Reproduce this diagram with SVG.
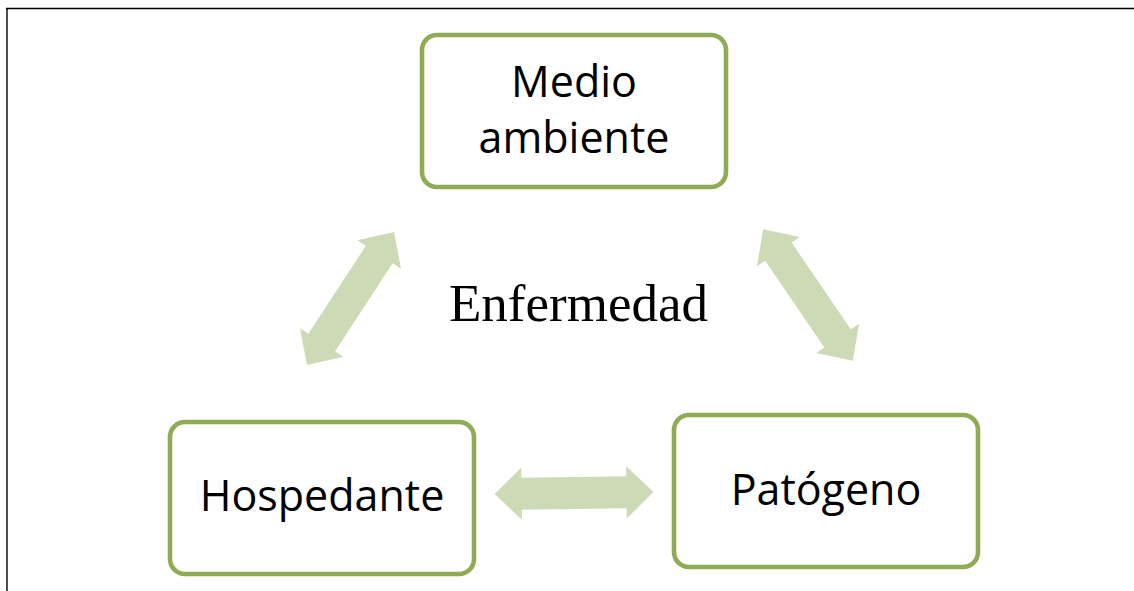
<svg xmlns="http://www.w3.org/2000/svg" width="1134" height="591" viewBox="0 0 1134 591">
  <style>
    .box { fill: #ffffff; stroke: #8fab55; stroke-width: 4.6; }
    .lbl { font-family: "Open Sans", "Noto Sans", sans-serif; font-size: 43px; fill: #000000; text-anchor: middle; }
    .arrow { fill: #cddab6; }
    .title { font-family: "Liberation Serif", "Times New Roman", serif; font-size: 53px; fill: #000000; text-anchor: middle; }
  </style>
  <defs>
    <polygon id="dblArrow" points="-79.5,0 -52.5,-26 -52.5,-16 52.5,-16 52.5,-26 79.5,0 52.5,26 52.5,16 -52.5,16 -52.5,26"/>
  </defs>
  <rect x="0" y="0" width="1134" height="591" fill="#ffffff"/>
  <g id="frame" stroke="#000000" stroke-width="1.4" fill="none">
    <line x1="6" y1="8.5" x2="1134" y2="8.5"/>
    <line x1="7" y1="8" x2="7" y2="591"/>
  </g>
  <g id="connectors">
    <use href="#dblArrow" class="arrow" transform="translate(350.5,298.5) rotate(-56.8)"/>
    <use href="#dblArrow" class="arrow" transform="translate(808,295) rotate(55.7)"/>
    <use href="#dblArrow" class="arrow" transform="translate(574,493) rotate(-0.7)"/>
  </g>
  <g id="node-medio">
    <rect class="box" x="422" y="35" width="304" height="152" rx="15"/>
    <text class="lbl" x="574" y="97">Medio</text>
    <text class="lbl" x="574" y="153">ambiente</text>
  </g>
  <g id="node-hospedante">
    <rect class="box" x="170" y="422" width="304" height="152" rx="15"/>
    <text class="lbl" x="322" y="511">Hospedante</text>
  </g>
  <g id="node-patogeno">
    <rect class="box" x="674" y="415" width="304" height="152" rx="15"/>
    <text class="lbl" x="826" y="505">Patógeno</text>
  </g>
  <g id="center-label">
    <text class="title" x="578.5" y="321">Enfermedad</text>
  </g>
</svg>
